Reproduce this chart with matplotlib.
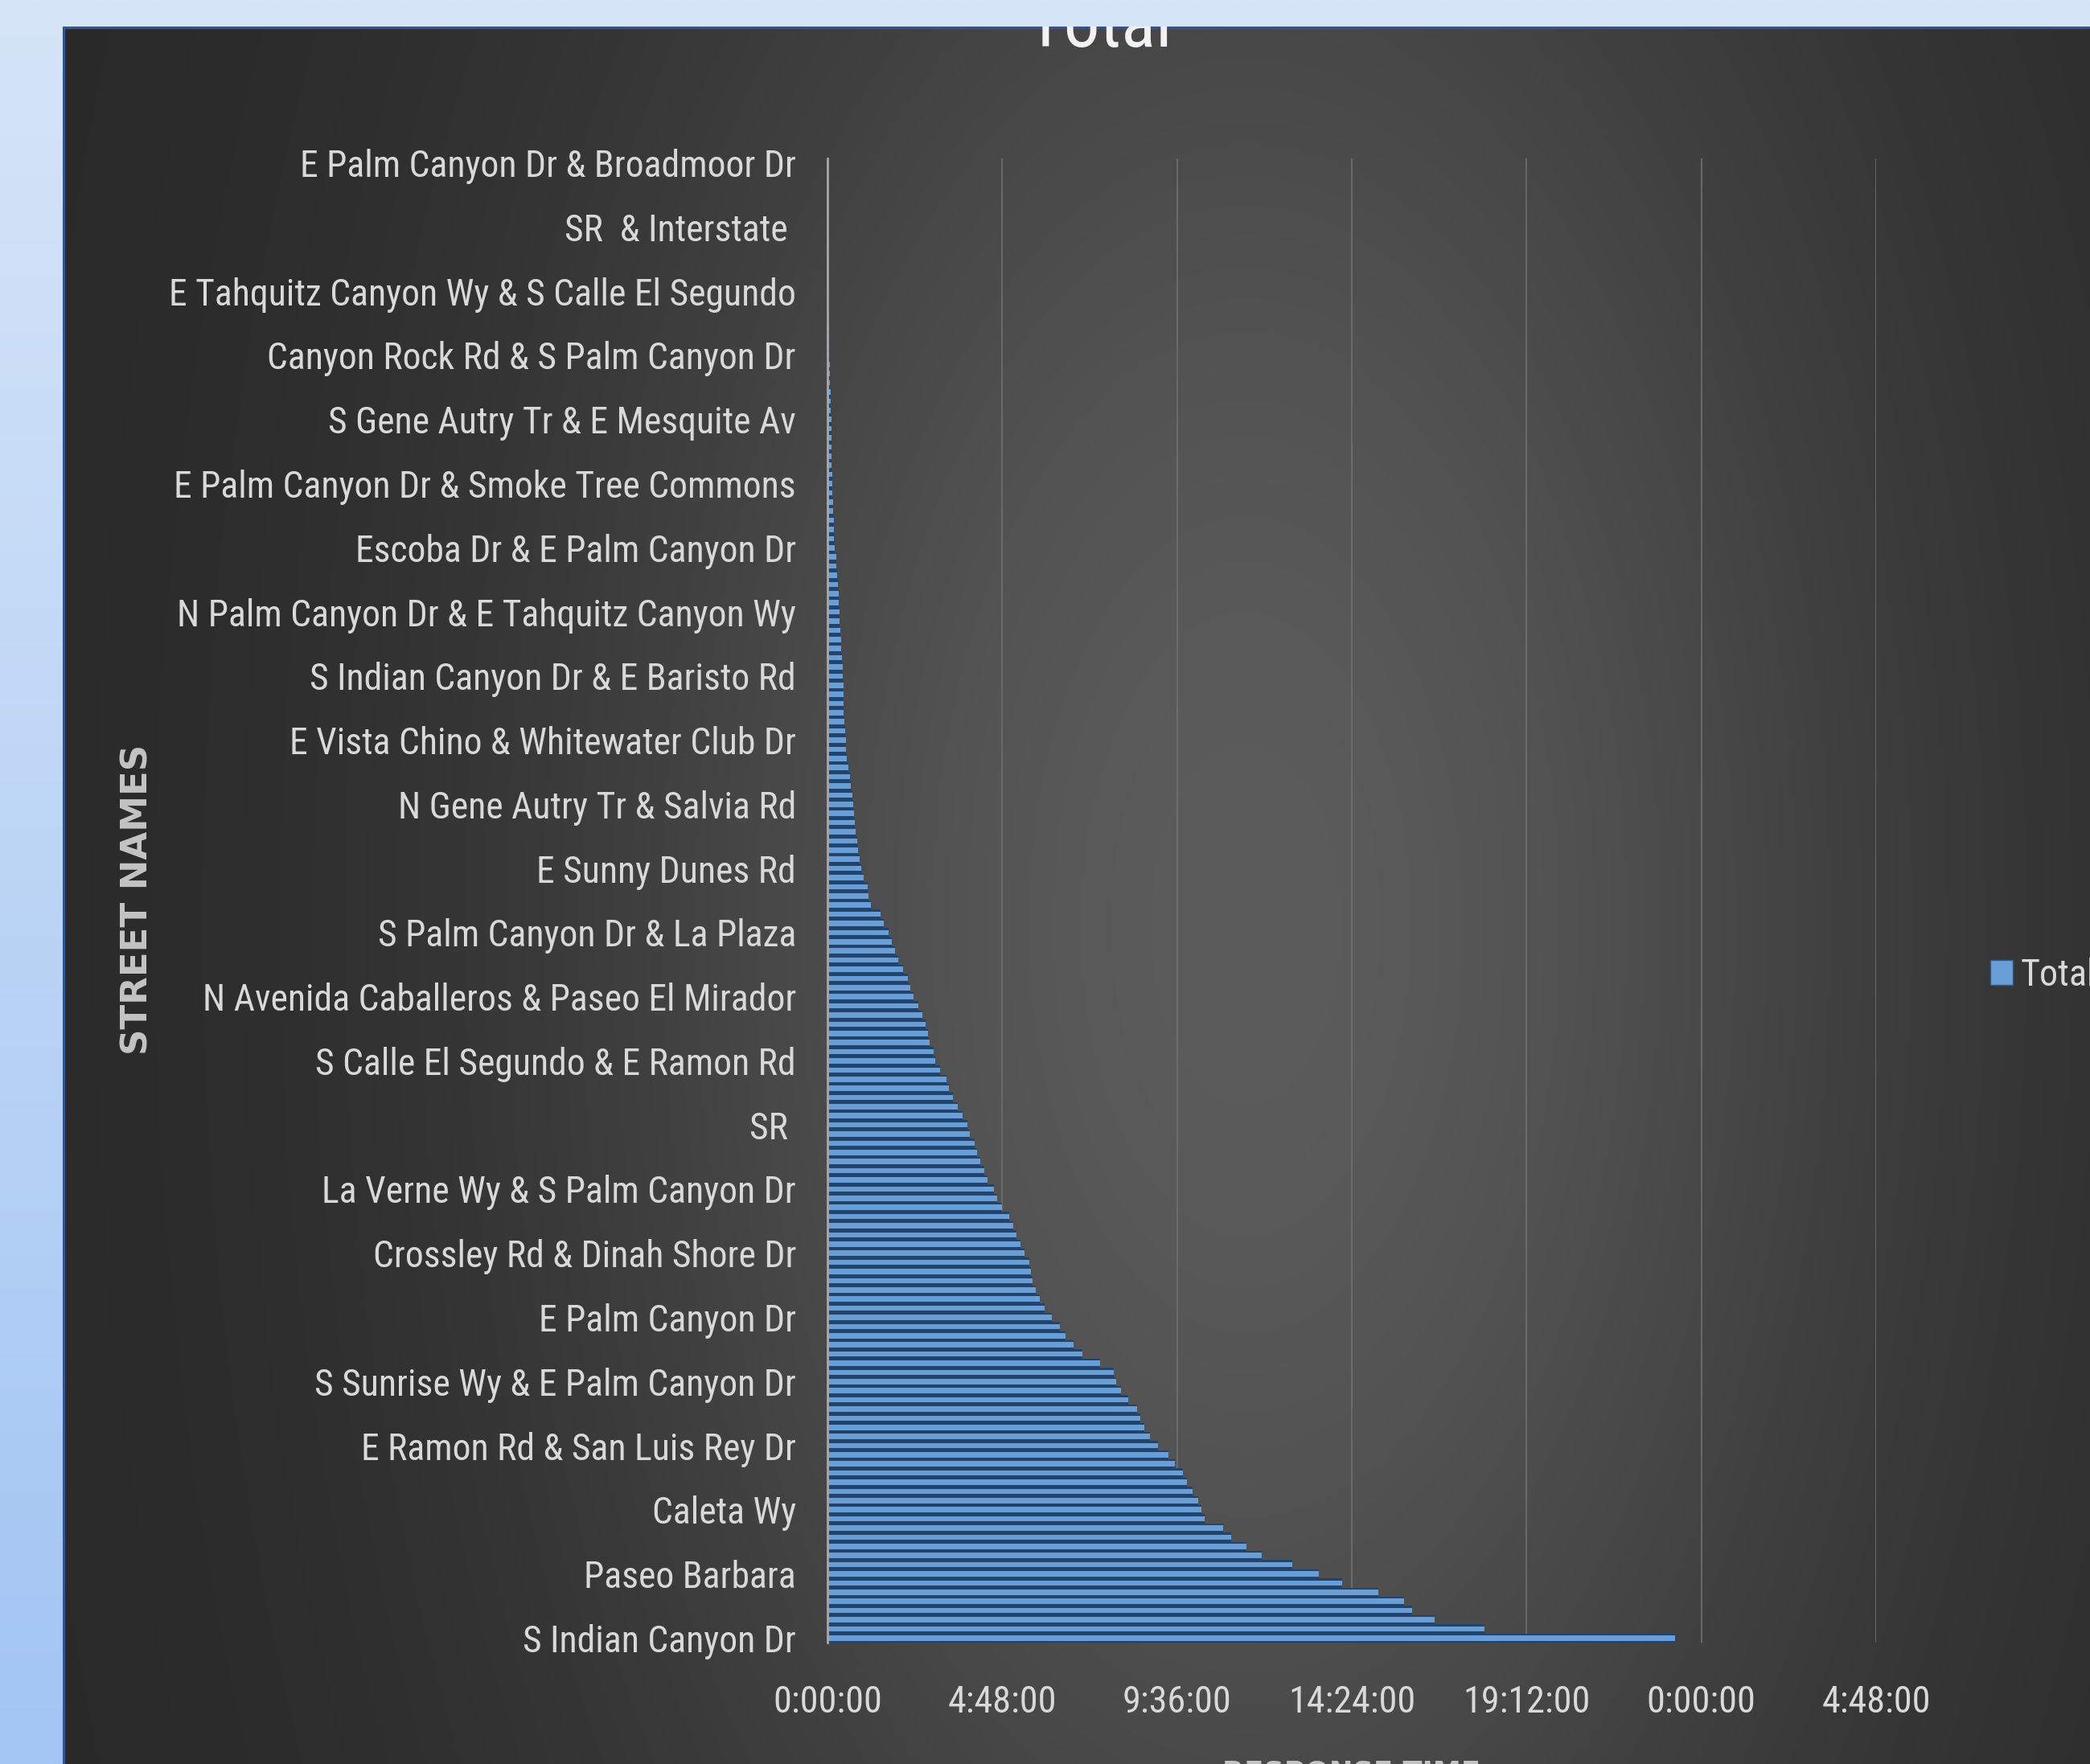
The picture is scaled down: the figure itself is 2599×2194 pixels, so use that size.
import numpy as np
import matplotlib
matplotlib.use("Agg")
import matplotlib.pyplot as plt
from matplotlib import font_manager as fm
from matplotlib.patches import Patch
from matplotlib.ticker import FixedLocator, FuncFormatter

# ---------------- data ----------------
# category labels shown on the axis (every 7th category, bottom -> top)
label_names = [
    "S Indian Canyon Dr",
    "Paseo Barbara",
    "Caleta Wy",
    "E Ramon Rd & San Luis Rey Dr",
    "S Sunrise Wy & E Palm Canyon Dr",
    "E Palm Canyon Dr",
    "Crossley Rd & Dinah Shore Dr",
    "La Verne Wy & S Palm Canyon Dr",
    "SR ",
    "S Calle El Segundo & E Ramon Rd",
    "N Avenida Caballeros & Paseo El Mirador",
    "S Palm Canyon Dr & La Plaza",
    "E Sunny Dunes Rd",
    "N Gene Autry Tr & Salvia Rd",
    "E Vista Chino & Whitewater Club Dr",
    "S Indian Canyon Dr & E Baristo Rd",
    "N Palm Canyon Dr & E Tahquitz Canyon Wy",
    "Escoba Dr & E Palm Canyon Dr",
    "E Palm Canyon Dr & Smoke Tree Commons",
    "S Gene Autry Tr & E Mesquite Av",
    "Canyon Rock Rd & S Palm Canyon Dr",
    "E Tahquitz Canyon Wy & S Calle El Segundo",
    "SR  & Interstate ",
    "E Palm Canyon Dr & Broadmoor Dr",
]
label_step = 7

# response time per category in minutes (bottom -> top)
response_minutes = [
    1397, 1083, 1000, 963, 950, 908, 848, 810, 766, 715,
    690, 665, 652, 621, 616, 611, 601, 592, 586, 572,
    562, 545, 532, 522, 515, 510, 495, 484, 476, 472,
    449, 420, 405, 392, 383, 370, 358, 350, 343, 338,
    335, 332, 325, 318, 312, 306, 300, 288, 280, 274,
    264, 258, 252, 247, 242, 235, 230, 222, 215, 207,
    200, 196, 186, 178, 175, 168, 165, 162, 157, 150,
    142, 137, 132, 124, 116, 111, 106, 101, 93, 88,
    71, 68, 66, 60, 56, 53, 51, 49, 47, 45,
    44, 43, 41, 39, 37, 34, 32, 31, 30, 29,
    28, 27, 27, 26, 26, 25, 25, 24, 23, 22,
    21, 20, 20, 19, 18, 17, 16, 15, 14, 12,
    11, 10, 10, 9, 9, 8, 8, 8, 7, 7,
    7, 6, 6, 6, 5, 5, 5, 4, 4, 4,
    3, 2.5, 2, 2, 2, 1.8, 1.6, 1.5, 1.5, 1.4,
    1.3, 1.2, 1.2, 1.1, 1.0, 1.0, 0.9, 0.8, 0.7, 0.6,
    0.5, 0.4,
]
x_ticks_days = [0, 0.2, 0.4, 0.6, 0.8, 1.0, 1.2]
series_name = "Total"
chart_title = "Total"
x_title = "RESPONSE TIME"
y_title = "STREET NAMES"

# ---------------- fonts ----------------
def pick(cands):
    for c in cands:
        try:
            fm.findfont(fm.FontProperties(family=c), fallback_to_default=False)
            return c
        except Exception:
            pass
    return "DejaVu Sans"


narrow = pick(["Liberation Sans Narrow", "Roboto Condensed", "Open Sans Condensed",
               "Liberation Sans"])
boldfam = "DejaVu Sans"
plt.rcParams["font.family"] = [narrow, "DejaVu Sans"]

W, H, DPI = 2599, 2194, 100
fig = plt.figure(figsize=(W / DPI, H / DPI), dpi=DPI)
renderer = fig.canvas.get_renderer()


def fit_size(s, family, weight, target_px, start=30.0):
    t = fig.text(0, 0, s, fontsize=start, family=family, weight=weight)
    w = t.get_window_extent(renderer).width
    t.remove()
    return start * target_px / w


# ---------------- backgrounds ----------------
bg = fig.add_axes([0, 0, 1, 1], zorder=-10)
bg.set_xlim(0, W)
bg.set_ylim(H, 0)
bg.axis("off")
ny, nx = 300, 10
t = np.linspace(0, 1, ny)[:, None, None]
top_c = np.array([0xD6, 0xE5, 0xF8]) / 255
bot_c = np.array([0xA2, 0xC5, 0xF3]) / 255
blue = top_c * (1 - t) + bot_c * t
blue = np.repeat(blue, nx, axis=1)
bg.imshow(blue, extent=(0, W, H, 0), aspect="auto", interpolation="bilinear")

CX0, CY0 = 78, 33
chart = fig.add_axes([CX0 / W, 0, 1 - CX0 / W, 1 - CY0 / H], zorder=-5)
chart.set_xlim(CX0, W)
chart.set_ylim(H, CY0)
chart.axis("off")
gx = np.linspace(CX0, W, 400)
gy = np.linspace(CY0, H, 400)
GX, GY = np.meshgrid(gx, gy)
fx = np.exp(-((GX - 1550) / 850.0) ** 2)
fy = np.exp(-((GY - 1150) / 1600.0) ** 2)
g = (40 + 52 * fx * fy) / 255
chart.imshow(np.dstack([g, g, g]), extent=(CX0, W, H, CY0), aspect="auto",
             interpolation="bilinear")
chart.plot([CX0 + 1, CX0 + 1], [H, CY0], color="#2F5597", lw=2.4, solid_capstyle="butt")
chart.plot([CX0, W], [CY0 + 1, CY0 + 1], color="#2F5597", lw=2.4, solid_capstyle="butt")

title_size = fit_size(chart_title, narrow, "normal", 173)
tt = chart.text(1367, 58, chart_title, ha="center", va="baseline",
                fontsize=title_size * 1.05, color="#F2F2F2", clip_on=True)

# ---------------- main axes ----------------
L, R, T, B = 1029, 2333, 197, 2043
ax = fig.add_axes([L / W, 1 - B / H, (R - L) / W, (B - T) / H])
ax.set_facecolor("none")

n = len(response_minutes)
ypos = np.arange(n)
days = np.array(response_minutes) / 1440.0
ax.barh(ypos, days, height=1.0, color="#22436c", linewidth=0, zorder=2)
ax.barh(ypos, days, height=0.58, color="#6a9ed6", linewidth=0, zorder=3)

ax.set_xlim(0, 1.2)
ax.set_ylim(-0.5, n - 0.5)


def fmt(d, pos=None):
    s = int(round(d * 86400))
    h = (s // 3600) % 24
    m = (s % 3600) // 60
    sec = s % 60
    return f"{h}:{m:02d}:{sec:02d}"


ax.xaxis.set_major_locator(FixedLocator(x_ticks_days))
ax.xaxis.set_major_formatter(FuncFormatter(fmt))
ax.set_yticks(np.arange(0, n, label_step))
ax.set_yticklabels(label_names)

ysz = fit_size("E Tahquitz Canyon Wy & S Calle El Segundo", narrow, "normal", 780)
xsz = fit_size("14:24:00", narrow, "normal", 158)

ax.tick_params(axis="y", length=0, pad=39 * 72 / DPI, labelsize=ysz, labelcolor="#D9D9D9")
ax.tick_params(axis="x", length=0, pad=74 * 72 / DPI, labelsize=xsz, labelcolor="#D9D9D9")
for lab in ax.get_xticklabels():
    lab.set_verticalalignment("center")

for side in ["top", "right", "bottom"]:
    ax.spines[side].set_visible(False)
ax.spines["left"].set_color("#A8A8A8")
ax.spines["left"].set_linewidth(2.0)
ax.spines["left"].set_zorder(5)
ax.grid(axis="x", color="#707070", linewidth=1.2, zorder=0)
ax.grid(axis="y", visible=False)
ax.set_axisbelow(True)

# axis titles
ytsz = fit_size(y_title, boldfam, "bold", 387)
fig.text(171 / W, 1 - 1119 / H, y_title, rotation=90, ha="center", va="center",
         fontsize=ytsz, weight="bold", family=boldfam, color="#C4C4C4")
xtsz = fit_size(x_title, boldfam, "bold", 322)
fig.text(1680 / W, 1 - 2189 / H, x_title, ha="center", va="top",
         fontsize=xtsz, weight="bold", family=boldfam, color="#C4C4C4")

# legend
lsz = xsz
fpx = lsz * DPI / 72
fig.legend(handles=[Patch(facecolor="#6a9ed6", edgecolor="#2a5a90", linewidth=1.0)],
           labels=[series_name], loc="center left",
           bbox_to_anchor=(2475 / W, 1 - 1213 / H), bbox_transform=fig.transFigure,
           frameon=False, borderpad=0, borderaxespad=0,
           handlelength=28 / fpx, handleheight=30 / fpx, handletextpad=10 / fpx,
           fontsize=lsz, labelcolor="#D9D9D9")

fig.savefig("out.png", dpi=DPI)
